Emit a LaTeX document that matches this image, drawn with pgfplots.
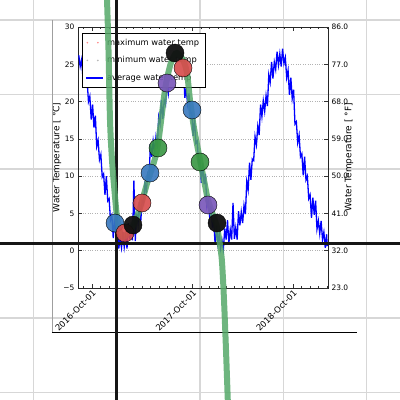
\documentclass[border=0pt]{standalone}
\usepackage{pgfplots}
\pgfplotsset{compat=1.18}
\usepackage{fontspec}
\setmainfont{DejaVu Sans}
\definecolor{gridgray}{RGB}{215,215,215}
\definecolor{axisblack}{RGB}{22,22,22}
\definecolor{cblue}{RGB}{55,120,190}
\definecolor{cred}{RGB}{215,75,75}
\definecolor{cgreen}{RGB}{55,150,65}
\definecolor{cpurple}{RGB}{120,85,185}
\definecolor{cblack}{RGB}{15,15,15}
\definecolor{curvegreen}{RGB}{85,168,104}
\begin{document}
\begin{tikzpicture}
% ---- background grid
\begin{axis}[at={(0,0)}, anchor=south west, width=400bp, height=400bp, scale only axis,
  xmin=-1.4, xmax=3.4, ymin=-2.1007, ymax=3.2685, hide axis]
\addplot[gridgray, line width=1.3bp] coordinates {(-1,-2.2) (-1,3.3)};
\addplot[gridgray, line width=1.3bp] coordinates {(1,-2.2) (1,3.3)};
\addplot[gridgray, line width=1.3bp] coordinates {(2,-2.2) (2,3.3)};
\addplot[gridgray, line width=1.3bp] coordinates {(3,-2.2) (3,3.3)};
\addplot[gridgray, line width=1.3bp] coordinates {(-1.5,-2) (3.5,-2)};
\addplot[gridgray, line width=1.3bp] coordinates {(-1.5,-1) (3.5,-1)};
\addplot[gridgray, line width=1.3bp] coordinates {(-1.5,1) (3.5,1)};
\addplot[gridgray, line width=1.3bp] coordinates {(-1.5,2) (3.5,2)};
\addplot[gridgray, line width=1.3bp] coordinates {(-1.5,3) (3.5,3)};
\end{axis}
% ---- inner chart (Celsius)
\begin{axis}[at={(78bp,112bp)}, anchor=south west, width=250bp, height=261bp, scale only axis,
  xmin=-51, xmax=857, ymin=-5, ymax=30,
  xtick={0,365,730}, xticklabels={2016-Oct-01,2017-Oct-01,2018-Oct-01},
  minor xtick={-30,31,61,92,123,151,182,212,243,273,304,335,396,426,457,488,516,547,577,608,638,669,700,761,791,822,853},
  xtick pos=both, ytick pos=left,
  ytick={-5,0,5,10,15,20,25,30}, yticklabels={−5,0,5,10,15,20,25,30},
  ymajorgrids, grid style={gray!60, dotted, line width=0.6bp},
  tick align=inside, major tick length=4bp, minor tick length=2bp,
  tick style={black!80, line width=0.6bp},
  axis line style={black!85, line width=0.7bp},
  ticklabel style={font=\fontsize{7.5}{8}\selectfont},
  xticklabel style={rotate=45, anchor=north east, inner sep=1bp, font=\fontsize{8.5}{9}\selectfont},
  ylabel={Water Temperature [ °C]},
  ylabel style={at={(axis description cs:-0.084,0.5)}, anchor=center, font=\fontsize{9}{10}\selectfont},
  legend style={at={(axis description cs:0.016,0.977)}, anchor=north west, draw=black, line width=0.6bp,
    fill=white, font=\fontsize{8.3}{9}\selectfont, row sep=6bp, inner xsep=3bp, inner ysep=3.5bp,
    nodes={inner xsep=3.5bp}},
  legend cell align=left]
\addlegendimage{legend image code/.code={\fill[red!45] (0.05cm,0) circle (0.5bp); \fill[red!45] (0.42cm,0) circle (0.5bp);}}
\addlegendentry{maximum water temp}
\addlegendimage{legend image code/.code={\fill[gray!55] (0.05cm,0) circle (0.5bp); \fill[gray!55] (0.42cm,0) circle (0.5bp);}}
\addlegendentry{minimum water temp}
\addplot[blue, line width=1.3bp] coordinates {
(-48,26.2) (-43,24.7) (-38,25.6) (-33,23.2) (-28,25.0) (-23,22.3) (-18,22.9) (-13,20.0) (-8,20.7) (-3,17.6)
(2,19.6) (7,16.5) (12,18.1) (17,14.0) (22,14.8) (27,12.2) (32,12.9) (37,9.9) (42,10.3) (47,7.5)
(52,10.0) (57,6.7) (62,7.0) (67,4.1) (72,4.7) (77,1.7) (82,4.3) (87,1.8) (92,3.9) (97,0.3)
(102,1.6) (107,0.4) (112,2.5) (117,0.5) (122,2.0) (127,0.3) (132,3.7) (137,1.5) (142,3.2) (147,1.4)
(152,9.4) (157,1.3) (162,5.0) (167,3.7) (172,6.5) (177,4.0) (182,6.7) (187,6.3) (192,9.3) (197,7.7)
(202,10.2) (207,9.6) (212,14.3) (217,12.6) (222,14.7) (227,13.2) (232,15.2) (237,13.7) (242,17.9) (247,17.0)
(252,20.2) (257,17.7) (262,20.2) (267,19.6) (272,22.4) (277,21.1) (282,23.2) (287,21.7) (292,25.5) (297,23.7)
(302,25.4) (307,23.1) (312,24.4) (317,22.1) (322,25.1) (327,22.7) (332,24.5) (337,20.5) (342,21.7) (347,19.7)
(352,21.1) (357,18.4) (362,18.5) (367,15.4) (372,17.7) (377,14.4) (382,14.7) (387,11.7) (392,12.2) (397,9.1)
(402,11.7) (407,8.9) (412,10.3) (417,5.9) (422,6.6) (427,4.6) (432,6.0) (437,3.3) (442,3.9) (447,0.9)
(452,3.4) (457,1.0) (462,2.3) (467,0.3) (472,1.4) (477,0.2) (482,3.0) (487,1.5) (492,4.1) (497,1.0)
(502,2.8) (507,1.5) (512,6.4) (517,1.6) (522,3.1) (527,1.5) (532,5.3) (537,3.4) (542,5.2) (547,3.7)
(552,6.1) (557,4.9) (562,9.3) (567,8.2) (572,11.8) (577,9.5) (582,12.3) (587,12.1) (592,15.3) (597,14.2)
(602,16.7) (607,15.5) (612,19.6) (617,18.0) (622,20.1) (627,18.7) (632,20.8) (637,19.4) (642,23.6) (647,22.6)
(652,25.3) (657,23.1) (662,25.3) (667,24.3) (672,26.7) (677,24.9) (682,26.4) (687,24.7) (692,27.1) (697,25.1)
(702,25.9) (707,23.2) (712,24.2) (717,20.9) (722,23.2) (727,20.4) (732,21.6) (737,17.0) (742,17.3) (747,14.5)
(752,15.5) (757,12.6) (762,13.0) (767,10.1) (772,12.6) (777,9.5) (782,10.0) (787,7.0) (792,7.5) (797,4.4)
(802,7.1) (807,4.8) (812,6.7) (817,2.9) (822,4.0) (827,2.3) (832,4.0) (837,1.5) (842,2.5) (847,0.4)
(852,2.2) (854,0.6)
};
\addlegendentry{average water temp}
\end{axis}
% ---- right axis (Fahrenheit)
\begin{axis}[at={(78bp,112bp)}, anchor=south west, width=250bp, height=261bp, scale only axis,
  xmin=-51, xmax=857, ymin=23, ymax=86,
  axis x line=none, axis y line*=right,
  ytick={23,32,41,50,59,68,77,86}, yticklabels={23.0,32.0,41.0,50.0,59.0,68.0,77.0,86.0},
  tick align=inside, major tick length=4bp,
  tick style={black!80, line width=0.6bp},
  axis line style={black!85, line width=0.7bp},
  ticklabel style={font=\fontsize{7.5}{8}\selectfont},
  ylabel={Water Temperature [ °F]},
  ylabel style={at={(axis description cs:1.084,0.5)}, anchor=center, rotate=0, font=\fontsize{9}{10}\selectfont}]
\addplot[draw=none] coordinates {(0,30)};
\end{axis}
% ---- overlay
\begin{axis}[at={(0,0)}, anchor=south west, width=400bp, height=400bp, scale only axis,
  xmin=-1.4, xmax=3.4, ymin=-2.1007, ymax=3.2685, hide axis]
\addplot[gray!75, line width=0.8bp] coordinates {(-0.777,3.0) (-0.777,-1.201)};
\addplot[black, line width=1bp] coordinates {(-0.777,-1.201) (2.884,-1.201)};
\addplot[axisblack, line width=3bp] coordinates {(-1.5,0) (3.5,0)};
\addplot[axisblack, line width=3bp] coordinates {(0,-2.2) (0,3.3)};
\addplot[only marks, mark=*, mark size=9bp, mark options={draw=none, fill=cblue, fill opacity=0.9}] coordinates {(-0.020,0.275)};
\addplot[only marks, mark=*, mark size=9bp, mark options={draw=none, fill=cred, fill opacity=0.9}] coordinates {(0.100,0.141)};
\addplot[only marks, mark=*, mark size=9bp, mark options={draw=none, fill=cblack, fill opacity=0.95}] coordinates {(0.196,0.248)};
\addplot[only marks, mark=*, mark size=9bp, mark options={draw=none, fill=cred, fill opacity=0.9}] coordinates {(0.304,0.544)};
\addplot[only marks, mark=*, mark size=9bp, mark options={draw=none, fill=cblue, fill opacity=0.9}] coordinates {(0.400,0.946)};
\addplot[only marks, mark=*, mark size=9bp, mark options={draw=none, fill=cgreen, fill opacity=0.9}] coordinates {(0.496,1.282)};
\addplot[only marks, mark=*, mark size=9bp, mark options={draw=none, fill=cpurple, fill opacity=0.9}] coordinates {(0.604,2.154)};
\addplot[only marks, mark=*, mark size=9bp, mark options={draw=none, fill=cblack, fill opacity=0.95}] coordinates {(0.700,2.557)};
\addplot[only marks, mark=*, mark size=9bp, mark options={draw=none, fill=cred, fill opacity=0.9}] coordinates {(0.796,2.356)};
\addplot[only marks, mark=*, mark size=9bp, mark options={draw=none, fill=cblue, fill opacity=0.9}] coordinates {(0.904,1.792)};
\addplot[only marks, mark=*, mark size=9bp, mark options={draw=none, fill=cgreen, fill opacity=0.9}] coordinates {(1.000,1.094)};
\addplot[only marks, mark=*, mark size=9bp, mark options={draw=none, fill=cpurple, fill opacity=0.9}] coordinates {(1.096,0.517)};
\addplot[only marks, mark=*, mark size=9bp, mark options={draw=none, fill=cblack, fill opacity=0.95}] coordinates {(1.204,0.275)};
\addplot[smooth, tension=0.5, line width=6bp, color=curvegreen, opacity=0.85] coordinates {
(-0.118,3.35) (-0.098,2.60) (-0.080,1.658) (-0.056,1.121) (-0.026,0.705) (0.004,0.356) (0.040,0.154) (0.076,0.087)
(0.120,0.120) (0.196,0.235) (0.280,0.477) (0.376,0.852) (0.484,1.255) (0.580,2.060) (0.640,2.383) (0.688,2.517)
(0.724,2.557) (0.796,2.463) (0.844,2.289) (0.880,1.926) (0.928,1.550) (1.000,1.121) (1.048,0.852) (1.096,0.584)
(1.156,0.383) (1.204,0.221) (1.240,-0.020) (1.264,-0.248) (1.288,-0.758) (1.312,-1.430) (1.338,-2.25)
};
\end{axis}
\pgfresetboundingbox
\useasboundingbox (0,0) rectangle (400bp,400bp);
\end{tikzpicture}
\end{document}
